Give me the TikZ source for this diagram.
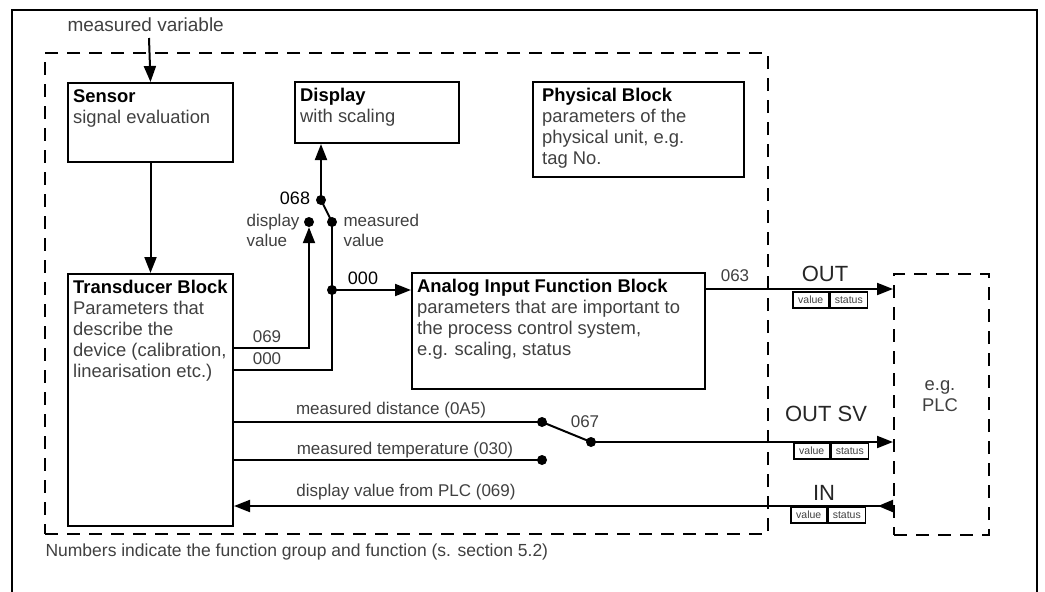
\documentclass[tikz,border=0pt]{standalone}
\usepackage{fontspec}
\setmainfont{Liberation Sans}
\usepackage{xcolor}
\usetikzlibrary{arrows.meta,positioning}

\definecolor{txtgray}{gray}{0.25}
\newcommand{\blkhead}[1]{{\color{black}\bfseries #1}}

\begin{document}
\begin{tikzpicture}[
    x=1pt, y=-1pt,
    every node/.style={font=\fontsize{18.4}{21}\selectfont, text=txtgray},
    blk/.style={draw, line width=2pt, anchor=north west, inner sep=0pt},
    grp/.style={draw, line width=2pt, dash pattern=on 13pt off 9pt, anchor=north west, inner sep=0pt},
    inbox/.style={anchor=north west, align=left, inner xsep=6pt, inner ysep=7pt},
    lbl/.style={font=\fontsize{17}{20}\selectfont},
    num/.style={font=\fontsize{18}{20}\selectfont, text=black},
    sig/.style={font=\fontsize{22}{24}\selectfont, text=black!85},
    dot/.style={circle, fill=black, inner sep=0pt, minimum size=10pt},
    vs/.style={draw, line width=1.5pt, inner sep=0pt, minimum height=16pt, anchor=north west,
        font=\fontsize{10.5}{11}\selectfont},
    conn/.style={line width=2pt},
    arr/.style={-{Triangle[length=16pt,width=12pt]}}
]
\useasboundingbox (0,0) rectangle (1045,592);

% outer frame
\draw[line width=2.5pt] (12,592) -- (12,10) -- (1037,10) -- (1037,592);

% device and PLC
\node[grp, minimum width=723pt, minimum height=481pt] (res) at (44,52) {};
\node[grp, minimum width=95pt, minimum height=261pt] (plc) at (893,273) {};
\node[align=center] (lplc) at (940,396) {e.g.\\PLC};

% blocks
\node[blk, minimum width=165pt, minimum height=79pt] (sensor) at (67,82) {};
\node[blk, minimum width=165pt, minimum height=252pt] (trans) at (67,273) {};
\node[blk, minimum width=164pt, minimum height=61pt] (disp) at (294,81) {};
\node[blk, minimum width=211pt, minimum height=95pt] (phys) at (532,81) {};
\node[blk, minimum width=293pt, minimum height=116pt] (aifb) at (411,272) {};

\node[inbox] at (sensor.north west) {\blkhead{Sensor}\\signal evaluation};
\node[inbox] at (trans.north west) {\blkhead{Transducer Block}\\Parameters that\\describe the\\device (calibration,\\linearisation etc.)};
\node[inbox] at (disp.north west) {\blkhead{Display}\\with scaling};
\node[inbox, xshift=4pt] at (phys.north west) {\blkhead{Physical Block}\\parameters of the\\physical unit, e.g.\\tag No.};
\node[inbox] at (aifb.north west) {\blkhead{Analog Input Function Block}\\parameters that are important to\\the process control system,\\e.g. scaling, status};

% switches
\node[dot] (sw68) at (321,200) {};
\node[dot] (ddv) at (309,222) {};
\node[dot] (dmv) at (332,222) {};
\node[dot] (jn) at (332,290) {};
\node[dot] (dd) at (542,422) {};
\node[dot] (sw67) at (591,442) {};
\node[dot] (dt) at (542,460) {};

% connectors
\coordinate (mvtop) at (149,38);
\draw[conn, arr] (mvtop) -- (sensor.north);
\draw[conn, arr] (sensor.south) -- (trans.north);
\draw[conn, arr] (sw68.center) -- (sw68 |- disp.south);
\draw[conn] (sw68.center) -- (dmv.center);
\draw[conn] (trans.east |- 0,370) -| (dmv.center);
\draw[conn, arr] (trans.east |- 0,348) -| (ddv.south);
\draw[conn, arr] (jn.center) -- (aifb.west |- jn);
\draw[conn, arr] (aifb.east |- 0,289) -- (plc.west |- 0,289);
\draw[conn] (trans.east |- dd) -- (dd.center);
\draw[conn] (dd.center) -- (sw67.center);
\draw[conn, arr] (sw67.center) -- (plc.west |- sw67);
\draw[conn] (trans.east |- dt) -- (dt.center);
\draw[conn, {Triangle[reversed,length=15pt,width=12pt]}-{Triangle[length=16pt,width=12pt]}]
    (plc.west |- 0,506) -- (trans.east |- 0,506);

% labels
\node[lbl, anchor=west, font=\fontsize{19}{21}\selectfont] (mv) at (64,25) {measured variable};
\node[num] (l068) at (295,198) {068};
\node[lbl, anchor=north east, align=left] (ldv) at (303,211) {display\\value};
\node[lbl, anchor=north west, align=left] (lmv) at (340,211) {measured\\value};
\node[num] (l000a) at (363,278) {000};
\node[lbl] (l069) at (267,337) {069};
\node[lbl] (l000b) at (267,359) {000};
\node[lbl] (l063) at (735,276) {063};
\node[lbl] (l067) at (585,422) {067};
\node[lbl] (ldist) at (391,410) {measured distance (0A5)};
\node[lbl] (ltemp) at (405,450) {measured temperature (030)};
\node[lbl] (lfrom) at (406,492) {display value from PLC (069)};
\node[sig] (lout) at (825,274) {OUT};
\node[sig] (loutsv) at (826,414) {OUT SV};
\node[sig] (lin) at (824,493) {IN};

% value / status
\node[vs, minimum width=36pt] (outv) at (792,291) {value};
\node[vs, minimum width=37pt] (outs) at (outv.north east) {status};
\node[vs, minimum width=36pt] (svv) at (793,442) {value};
\node[vs, minimum width=37pt] (svs) at (svv.north east) {status};
\node[vs, minimum width=36pt] (inv) at (790,506) {value};
\node[vs, minimum width=37pt] (ins) at (inv.north east) {status};

\node[lbl, anchor=west, font=\fontsize{17.5}{20}\selectfont] (note) at (42,552) {Numbers indicate the function group and function (s. section 5.2)};
\end{tikzpicture}
\end{document}
